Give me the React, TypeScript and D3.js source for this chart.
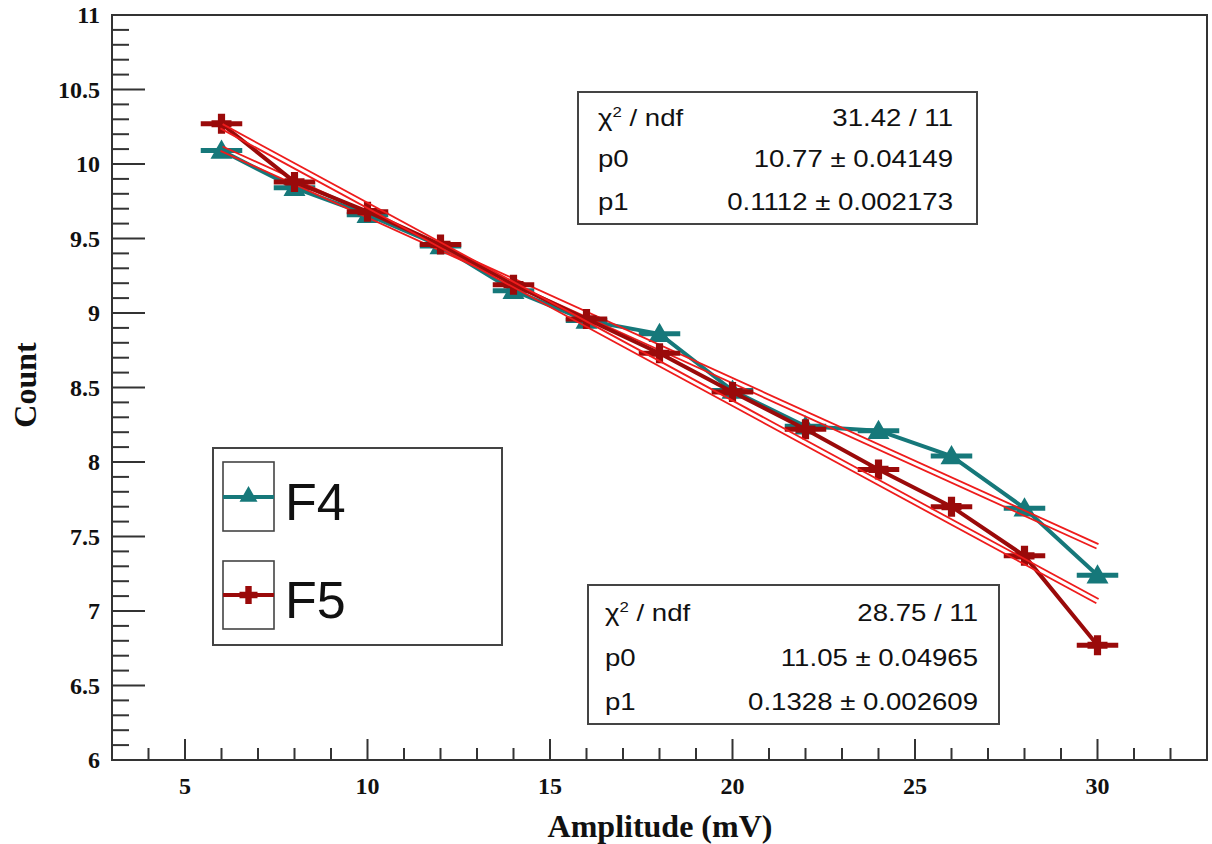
import React from "react";
import * as d3 from "d3";

const amplitudes = [6, 8, 10, 12, 14, 16, 18, 20, 22, 24, 26, 28, 30];
const countF4 = [10.09, 9.84, 9.66, 9.45, 9.15, 8.95, 8.86, 8.48, 8.24, 8.21, 8.04, 7.69, 7.24];
const countF5 = [10.27, 9.88, 9.68, 9.46, 9.19, 8.96, 8.73, 8.47, 8.22, 7.95, 7.70, 7.37, 6.77];
const xErr = 0.5;
const fitF4 = { p0: 10.77, p1: 0.1112, range: [6, 30] };
const fitF5 = { p0: 11.05, p1: 0.1328, range: [6, 30] };
const statsF4 = [
  ["χ2 / ndf", "31.42 / 11"],
  ["p0", "10.77 ± 0.04149"],
  ["p1", "0.1112 ± 0.002173"],
];
const statsF5 = [
  ["χ2 / ndf", "28.75 / 11"],
  ["p0", "11.05 ± 0.04965"],
  ["p1", "0.1328 ± 0.002609"],
];
const xMajor = [5, 10, 15, 20, 25, 30];
const yMajor = [6, 6.5, 7, 7.5, 8, 8.5, 9, 9.5, 10, 10.5, 11];

const TEAL = "#16787a";
const DARKRED = "#9a0a0a";
const FITRED = "#ee1c1c";

const L = 112, R = 1207, T = 15, B = 760;
const SX = 1.2;

export default function App() {
  const x = d3.scaleLinear().domain([3, 33]).range([L, R]);
  const y = d3.scaleLinear().domain([6, 11]).range([B, T]);
  const line = d3.line<number>().x((_, i) => x(amplitudes[i])).y((d) => y(d));

  const xMinor = d3.range(4, 33, 1).filter((v) => v % 5 !== 0);
  const yMinor = d3.range(60, 111, 1).map((v) => v / 10).filter((v) => Math.round(v * 10) % 5 !== 0);

  const fitLines = (fit: { p0: number; p1: number; range: number[] }, key: string) => {
    const x1 = x(fit.range[0]), y1 = y(fit.p0 - fit.p1 * fit.range[0]);
    const x2 = x(fit.range[1]), y2 = y(fit.p0 - fit.p1 * fit.range[1]);
    const dx = x2 - x1, dy = y2 - y1;
    const len = Math.hypot(dx, dy);
    const nx = (-dy / len) * 2.4, ny = (dx / len) * 2.4;
    return [1, -1].map((s) => (
      <line key={key + s} x1={x1 + s * nx} y1={y1 + s * ny} x2={x2 + s * nx} y2={y2 + s * ny}
        stroke={FITRED} strokeWidth={1.8} />
    ));
  };

  const triangle = (cx: number, cy: number, s = 11) =>
    `M${cx},${cy - s} L${cx + s},${cy + s * 0.75} L${cx - s},${cy + s * 0.75} Z`;
  const cross = (cx: number, cy: number, a = 10, w = 3.6) =>
    `M${cx - w},${cy - a} H${cx + w} V${cy - w} H${cx + a} V${cy + w} H${cx + w} V${cy + a} H${cx - w} V${cy + w} H${cx - a} V${cy - w} H${cx - w} Z`;

  const series = (vals: number[], color: string, kind: "tri" | "cross", key: string) => (
    <g key={key}>
      <path d={line(vals) || ""} fill="none" stroke={color} strokeWidth={4} strokeLinejoin="round" />
      {vals.map((v, i) => (
        <g key={i}>
          <line x1={x(amplitudes[i] - xErr)} x2={x(amplitudes[i] + xErr)} y1={y(v)} y2={y(v)}
            stroke={color} strokeWidth={5} strokeLinecap="square" />
          <path d={kind === "tri" ? triangle(x(amplitudes[i]), y(v)) : cross(x(amplitudes[i]), y(v))} fill={color} />
        </g>
      ))}
    </g>
  );

  const statsBox = (rows: string[][], bx: number, by: number, bw: number, bh: number, base: number[], lx: number, rx: number, key: string) => (
    <g key={key} fontFamily="'Liberation Sans', Arial, sans-serif" fontSize={23} fill="#111">
      <rect x={bx} y={by} width={bw} height={bh} fill="white" stroke="#444" strokeWidth={2} />
      {rows.map((r, i) => (
        <g key={i}>
          <text transform={`translate(${lx},${base[i]}) scale(${SX},1)`}>
            {i === 0 ? (<>
              <tspan>χ</tspan><tspan dy={-9} fontSize={14}>2</tspan><tspan dy={9}> / ndf</tspan>
            </>) : r[0]}
          </text>
          <text transform={`translate(${rx},${base[i]}) scale(${SX},1)`} textAnchor="end">{r[1]}</text>
        </g>
      ))}
    </g>
  );

  return (
    <svg width={1212} height={844} style={{ position: "absolute", left: 0, top: 0, background: "white" }}>
      <rect x={0} y={0} width={1212} height={844} fill="white" />
      <rect x={L} y={T} width={R - L} height={B - T} fill="none" stroke="#333" strokeWidth={2} />
      {yMajor.map((v) => (
        <line key={"ym" + v} x1={L} x2={L + 33} y1={y(v)} y2={y(v)} stroke="#333" strokeWidth={2} />
      ))}
      {yMinor.map((v) => (
        <line key={"yn" + v} x1={L} x2={L + 17} y1={y(v)} y2={y(v)} stroke="#333" strokeWidth={2} />
      ))}
      {xMajor.map((v) => (
        <line key={"xm" + v} x1={x(v)} x2={x(v)} y1={B} y2={B - 21} stroke="#333" strokeWidth={2} />
      ))}
      {xMinor.map((v) => (
        <line key={"xn" + v} x1={x(v)} x2={x(v)} y1={B} y2={B - 12} stroke="#333" strokeWidth={2} />
      ))}
      <g fontFamily="'Liberation Serif', 'Times New Roman', serif" fontWeight="bold" fontSize={24} fill="#111">
        {yMajor.map((v) => (
          <text key={"yl" + v} x={100} y={y(v) + 8} textAnchor="end">{d3.format("")(v)}</text>
        ))}
        {xMajor.map((v) => (
          <text key={"xl" + v} x={x(v)} y={794} textAnchor="middle">{v}</text>
        ))}
        <text x={660} y={837} textAnchor="middle" fontSize={32}>Amplitude (mV)</text>
        <text transform="translate(36,385) rotate(-90)" textAnchor="middle" fontSize={32}>Count</text>
      </g>

      {series(countF4, TEAL, "tri", "f4")}
      {fitLines(fitF4, "fit4")}
      {series(countF5, DARKRED, "cross", "f5")}
      {fitLines(fitF5, "fit5")}

      {statsBox(statsF4, 578, 92, 399, 132, [126, 167, 210], 598, 953, "s4")}
      {statsBox(statsF5, 588, 585, 411, 139, [621, 666, 710], 605, 978, "s5")}

      <g>
        <rect x={213} y={448} width={289} height={197} fill="white" stroke="#444" strokeWidth={2} />
        <rect x={223} y={462} width={51} height={69} fill="none" stroke="#444" strokeWidth={1.6} />
        <rect x={223} y={561} width={51} height={68} fill="none" stroke="#444" strokeWidth={1.6} />
        <line x1={223} x2={274} y1={497} y2={497} stroke={TEAL} strokeWidth={4} />
        <path d={triangle(248.5, 495, 9)} fill={TEAL} />
        <line x1={223} x2={274} y1={595} y2={595} stroke={DARKRED} strokeWidth={4} />
        <path d={cross(248.5, 595, 9, 3.2)} fill={DARKRED} />
        <g fontFamily="'Liberation Sans', Arial, sans-serif" fontSize={52} fill="#111">
          <text x={285} y={520}>F4</text>
          <text x={285} y={618}>F5</text>
        </g>
      </g>
    </svg>
  );
}
